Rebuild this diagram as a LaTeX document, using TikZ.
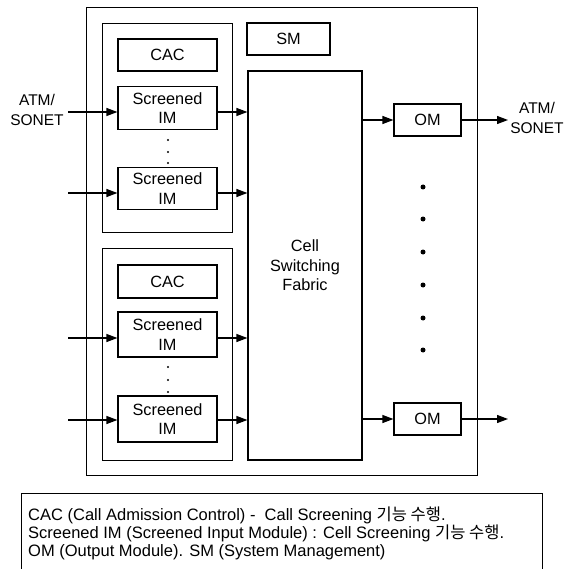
\documentclass[tikz,border=0pt]{standalone}
\usepackage{fontspec}
\setmainfont{Liberation Sans}
\newfontfamily\kor{Noto Sans CJK KR}
\usetikzlibrary{arrows.meta,positioning}

\begin{document}
\begin{tikzpicture}[x=1pt, y=-1pt,
  frame/.style={rectangle, draw, line width=0.7pt, minimum width=#1},
  blk/.style={rectangle, draw, line width=1.2pt, minimum width=99pt, minimum height=#1, align=center,
    font=\fontsize{16.3}{19.5}\selectfont, inner sep=1pt},
  arr/.style={-{Triangle[length=11pt, width=8pt]}, line width=1.2pt},
  lbl/.style={align=center, font=\fontsize{15.5}{19.5}\selectfont, inner sep=0pt}
]
  \useasboundingbox (0,0) rectangle (565,569);

  \node[frame=391pt, minimum height=468pt] (outer) at (281.5,241) {};
  \node[frame=130pt, minimum height=209pt] (grp1) at (167,127.5) {};
  \node[frame=130pt, minimum height=212pt] (grp2) at (167,354) {};

  \node[blk=32pt] (cac1) at (167.5,55) {CAC};
  \node[blk=43pt] (im1) at (167.5,108) {Screened\\IM};
  \node[blk=42pt] (im2) at (167.5,188.5) {Screened\\IM};
  \node[blk=33pt] (cac2) at (167.5,281.5) {CAC};
  \node[blk=45pt] (im3) at (167.5,334.5) {Screened\\IM};
  \node[blk=46pt] (im4) at (167.5,419) {Screened\\IM};

  \node[blk=32pt, minimum width=83pt] (sm) at (288.5,39) {SM};
  \node[blk=389pt, minimum width=114pt] (fabric) at (305,265.5) {Cell\\Switching\\Fabric};
  \node[blk=32pt, minimum width=67pt] (om1) at (427.5,120) {OM};
  \node[blk=32pt, minimum width=67pt] (om2) at (427.5,419) {OM};

  \node[lbl] (inlbl) at (37,110) {ATM/\\SONET};
  \node[lbl] (outlbl) at (537,118) {ATM/\\SONET};

  \coordinate (in1) at (68,112);
  \coordinate (in2) at (68,193);
  \coordinate (in3) at (68,338);
  \coordinate (in4) at (68,420);
  \coordinate (out1) at (508,120);
  \coordinate (out2) at (508,419);

  \draw[arr] (in1) -- (in1 -| im1.west);
  \draw[arr] (in2) -- (in2 -| im2.west);
  \draw[arr] (in3) -- (in3 -| im3.west);
  \draw[arr] (in4) -- (in4 -| im4.west);
  \draw[arr] (in1 -| im1.east) -- (in1 -| fabric.west);
  \draw[arr] (in2 -| im2.east) -- (in2 -| fabric.west);
  \draw[arr] (in3 -| im3.east) -- (in3 -| fabric.west);
  \draw[arr] (in4 -| im4.east) -- (in4 -| fabric.west);
  \draw[arr] (om1.west -| fabric.east) -- (om1.west);
  \draw[arr] (om2.west -| fabric.east) -- (om2.west);
  \draw[arr] (om1) -- (out1);
  \draw[arr] (om2) -- (out2);

  \fill (168,140) circle[radius=1.2pt] (168,152) circle[radius=1.2pt] (168,163) circle[radius=1.2pt];
  \fill (168,367) circle[radius=1.2pt] (168,380) circle[radius=1.2pt] (168,392) circle[radius=1.2pt];
  \fill (423,187) circle[radius=2.5pt] (423,219) circle[radius=2.5pt] (423,252) circle[radius=2.5pt]
        (423,285) circle[radius=2.5pt] (423,318) circle[radius=2.5pt] (423,350) circle[radius=2.5pt];

  \node[rectangle, draw, line width=1pt, minimum width=521pt, minimum height=78pt] (note) at (281.5,532) {};
  \node[anchor=north west, align=left, inner sep=0pt, font=\fontsize{16.5}{18}\selectfont] (notetxt) at (28,507)
    {CAC (Call Admission Control) -\ \ Call Screening {\kor 기능 수행}.\\
     Screened IM (Screened Input Module) : Cell Screening {\kor 기능 수행}.\\
     OM (Output Module). SM (System Management)};
\end{tikzpicture}
\end{document}
